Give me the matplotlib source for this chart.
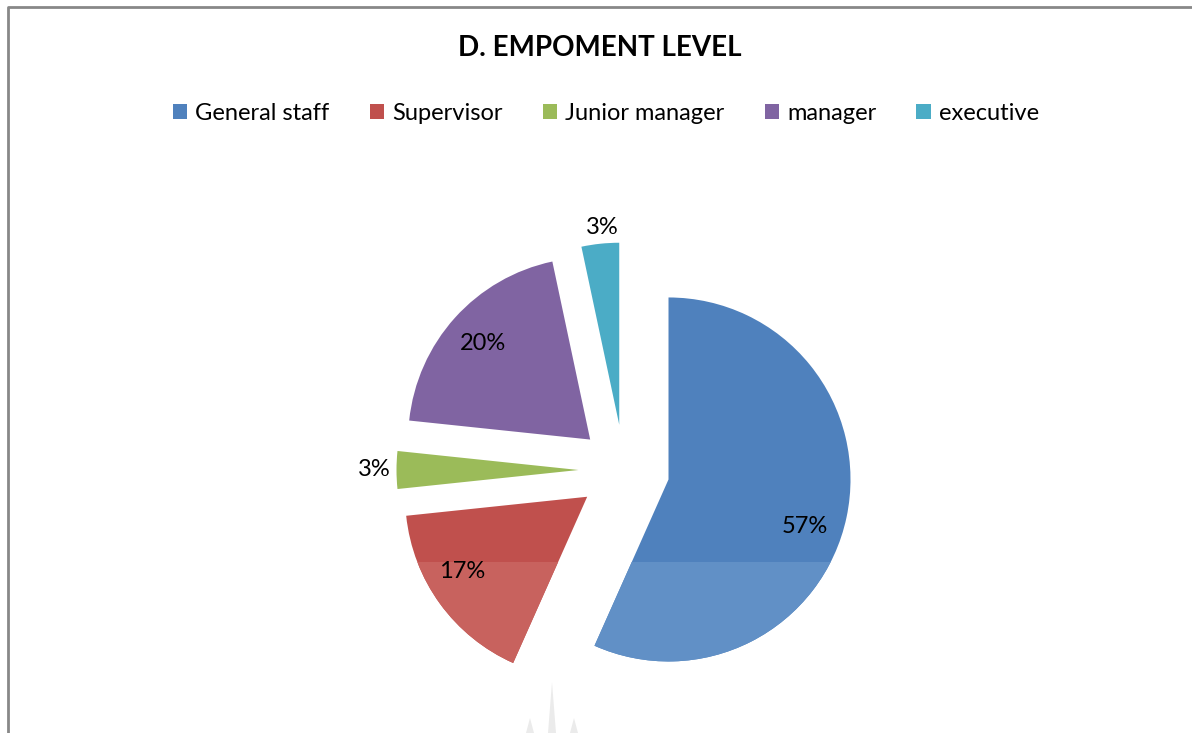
import matplotlib
matplotlib.use("Agg")
import matplotlib.pyplot as plt
import numpy as np
from matplotlib.patches import Polygon

plt.rcParams['font.family'] = ['Lato', 'DejaVu Sans']

# данные
categories = ['General staff', 'Supervisor', 'Junior manager', 'manager', 'executive']
counts = [17, 5, 1, 6, 1]
pct_labels = ['57%', '17%', '3%', '20%', '3%']
colors_top = ['#4F81BD', '#C0504D', '#9BBB59', '#8064A2', '#4BACC6']
colors_low = ['#6190C6', '#C8625E', '#A8C56E', '#8E75AE', '#62B8CF']

W, H = 1192, 733
fig = plt.figure(figsize=(W / 100, H / 100), dpi=100)
ax = fig.add_axes([0, 0, 1, 1])

cx, cy, R = 624, H - 470, 182
explode = [0.25 * R] * len(counts)  # в matplotlib explode - в единицах данных

wedges, _ = ax.pie(counts, explode=explode, startangle=90, counterclock=False,
                   colors=colors_top, center=(cx, cy), radius=R, labels=categories,
                   labeldistance=None, wedgeprops=dict(linewidth=0))

# нижняя часть - светлее (как в Excel)
low, _ = ax.pie(counts, explode=explode, startangle=90, counterclock=False,
                colors=colors_low, center=(cx, cy), radius=R,
                wedgeprops=dict(linewidth=0))
ycut = H - 562
clip = Polygon([(0, 0), (W, 0), (W, ycut), (0, ycut)], closed=True,
               transform=ax.transData)
for w in low:
    w.set_clip_on(True)
    w.set_clip_path(clip)

# подписи процентов (расстояние в долях радиуса, поворот в градусах)
label_dist = [0.79, 0.80, 1.12, 0.79, 1.09]
label_turn = [-7, -5, 0, 0, -1]
for w, txt, d, t in zip(wedges, pct_labels, label_dist, label_turn):
    th = np.radians((w.theta1 + w.theta2) / 2 + t)
    x0, y0 = w.center
    ax.text(x0 + d * R * np.cos(th), y0 + d * R * np.sin(th), txt,
            ha='center', va='center', fontsize=17, color='black')

ax.set_xlim(0, W)
ax.set_ylim(0, H)
ax.set_aspect('auto')
ax.axis('off')

# рамка
ax.plot([8, 8, W], [0, H - 7, H - 7], color='#888888', lw=2, clip_on=False)

# бледный знак внизу
for px, top in [(552, 682), (530, 718), (574, 718)]:
    ax.add_patch(Polygon([(px - 4, 0), (px, H - top), (px + 4, 0)],
                         closed=True, color='#EBEBEB', lw=0))

fig.text(600 / W, 1 - 48 / H, 'D. EMPOMENT LEVEL', ha='center', va='center',
         fontsize=20, fontweight='bold')

leg = ax.legend(wedges, categories, loc='center', bbox_to_anchor=(606 / W, 1 - 113 / H),
                bbox_transform=fig.transFigure, ncol=5, frameon=False, fontsize=17,
                handlelength=0.6, handleheight=0.6, handletextpad=0.35,
                columnspacing=1.7)

fig.savefig('out.png', dpi=100)
